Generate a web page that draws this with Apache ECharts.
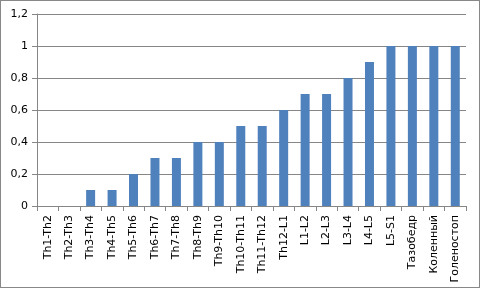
<!DOCTYPE html>
<html>
<head>
<meta charset="utf-8">
<script src="https://cdn.jsdelivr.net/npm/echarts@6/dist/echarts.min.js"></script>
<style>
  html, body { margin: 0; padding: 0; background: #fff; }
  #chart { width: 480px; height: 288px; box-sizing: border-box; border: 1px solid #888; }
</style>
</head>
<body>
<div id="chart"></div>
<script>
// segments along the spine + joints
const categories = ['Th1-Th2', 'Th2-Th3', 'Th3-Th4', 'Th4-Th5', 'Th5-Th6', 'Th6-Th7', 'Th7-Th8',
  'Th8-Th9', 'Th9-Th10', 'Th10-Th11', 'Th11-Th12', 'Th12-L1', 'L1-L2', 'L2-L3', 'L3-L4',
  'L4-L5', 'L5-S1', 'Тазобедр', 'Коленный', 'Голеностоп']
const values = [0, 0, 0.1, 0.1, 0.2, 0.3, 0.3, 0.4, 0.4, 0.5, 0.5, 0.6, 0.7, 0.7, 0.8, 0.9, 1, 1, 1, 1]

const chart = echarts.init(document.getElementById('chart'))
chart.setOption({
  animation: false,
  grid: { left: 36, right: 13, top: 13, bottom: 81 },
  xAxis: {
    type: 'category',
    data: categories,
    axisLine: { lineStyle: { color: '#868686' } },
    axisTick: { show: true, length: 5, lineStyle: { color: '#868686' } },
    axisLabel: {
      rotate: 90,
      interval: 0,
      margin: 9,
      color: '#000',
      fontFamily: 'DejaVu Sans',
      fontSize: 11
    }
  },
  yAxis: {
    type: 'value',
    min: 0,
    max: 1.2,
    interval: 0.2,
    axisLine: { show: true, lineStyle: { color: '#868686' } },
    axisTick: { show: true, length: 5, lineStyle: { color: '#868686' } },
    splitLine: { lineStyle: { color: '#868686' } },
    axisLabel: {
      color: '#000',
      fontFamily: 'DejaVu Sans',
      fontSize: 11,
      margin: 9,
      formatter: v => String(Math.round(v * 10) / 10).replace('.', ',')
    }
  },
  series: [{
    type: 'bar',
    data: values,
    barWidth: 9,
    itemStyle: { color: '#4F81BD' }
  }]
})
</script>
</body>
</html>
